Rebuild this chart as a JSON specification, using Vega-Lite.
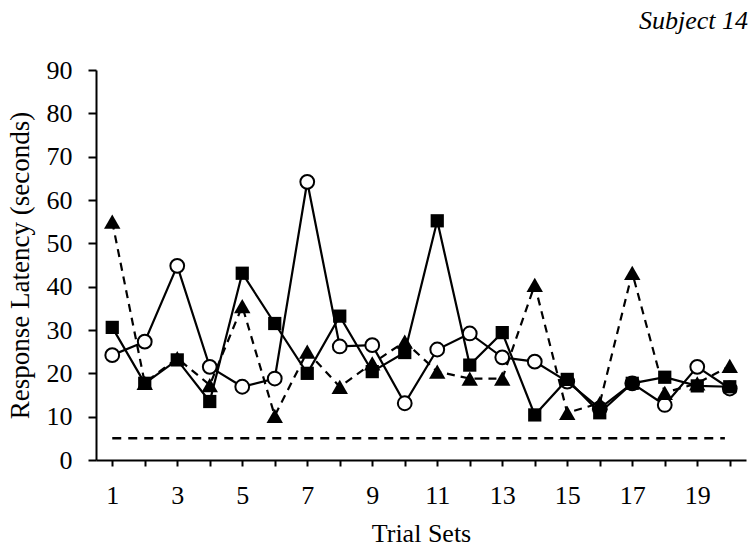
{
  "$schema": "https://vega.github.io/schema/vega-lite/v6.json",
  "width": 650,
  "height": 390,
  "autosize": {"type": "none"},
  "padding": {"left": 96, "top": 70, "right": 9, "bottom": 88},
  "background": "white",
  "title": {
    "text": "Subject 14",
    "anchor": "end",
    "frame": "group",
    "font": "Liberation Serif",
    "fontSize": 26,
    "fontStyle": "italic",
    "fontWeight": "normal",
    "color": "black",
    "offset": 23,
    "dx": 2
  },
  "config": {
    "view": {"stroke": null},
    "axis": {
      "labelFont": "Liberation Serif",
      "titleFont": "Liberation Serif",
      "labelFontSize": 26,
      "titleFontSize": 26,
      "titleFontWeight": "normal",
      "labelColor": "black",
      "titleColor": "black",
      "domainColor": "black",
      "tickColor": "black",
      "domainWidth": 2,
      "tickWidth": 2,
      "grid": false
    }
  },
  "datasets": {
    "main": [
      {"trial": 1, "series": "circle", "value": 24.2},
      {"trial": 2, "series": "circle", "value": 27.3},
      {"trial": 3, "series": "circle", "value": 44.8},
      {"trial": 4, "series": "circle", "value": 21.5},
      {"trial": 5, "series": "circle", "value": 16.9},
      {"trial": 6, "series": "circle", "value": 18.8},
      {"trial": 7, "series": "circle", "value": 64.2},
      {"trial": 8, "series": "circle", "value": 26.2},
      {"trial": 9, "series": "circle", "value": 26.5},
      {"trial": 10, "series": "circle", "value": 13.1},
      {"trial": 11, "series": "circle", "value": 25.5},
      {"trial": 12, "series": "circle", "value": 29.2},
      {"trial": 13, "series": "circle", "value": 23.7},
      {"trial": 14, "series": "circle", "value": 22.7},
      {"trial": 15, "series": "circle", "value": 18.1},
      {"trial": 16, "series": "circle", "value": 11.9},
      {"trial": 17, "series": "circle", "value": 17.7},
      {"trial": 18, "series": "circle", "value": 12.7},
      {"trial": 19, "series": "circle", "value": 21.5},
      {"trial": 20, "series": "circle", "value": 16.5},
      {"trial": 1, "series": "square", "value": 30.6},
      {"trial": 2, "series": "square", "value": 17.7},
      {"trial": 3, "series": "square", "value": 23.1},
      {"trial": 4, "series": "square", "value": 13.5},
      {"trial": 5, "series": "square", "value": 43.1},
      {"trial": 6, "series": "square", "value": 31.5},
      {"trial": 7, "series": "square", "value": 20.0},
      {"trial": 8, "series": "square", "value": 33.2},
      {"trial": 9, "series": "square", "value": 20.4},
      {"trial": 10, "series": "square", "value": 24.8},
      {"trial": 11, "series": "square", "value": 55.2},
      {"trial": 12, "series": "square", "value": 21.9},
      {"trial": 13, "series": "square", "value": 29.4},
      {"trial": 14, "series": "square", "value": 10.4},
      {"trial": 15, "series": "square", "value": 18.6},
      {"trial": 16, "series": "square", "value": 10.9},
      {"trial": 17, "series": "square", "value": 17.7},
      {"trial": 18, "series": "square", "value": 19.1},
      {"trial": 19, "series": "square", "value": 17.1},
      {"trial": 20, "series": "square", "value": 16.9},
      {"trial": 1, "series": "triangle", "value": 55.0},
      {"trial": 2, "series": "triangle", "value": 17.8},
      {"trial": 3, "series": "triangle", "value": 23.5},
      {"trial": 4, "series": "triangle", "value": 17.3},
      {"trial": 5, "series": "triangle", "value": 35.5},
      {"trial": 6, "series": "triangle", "value": 10.2},
      {"trial": 7, "series": "triangle", "value": 25.0},
      {"trial": 8, "series": "triangle", "value": 16.9},
      {"trial": 9, "series": "triangle", "value": 22.3},
      {"trial": 10, "series": "triangle", "value": 27.3},
      {"trial": 11, "series": "triangle", "value": 20.4},
      {"trial": 12, "series": "triangle", "value": 18.8},
      {"trial": 13, "series": "triangle", "value": 18.8},
      {"trial": 14, "series": "triangle", "value": 40.4},
      {"trial": 15, "series": "triangle", "value": 10.9},
      {"trial": 16, "series": "triangle", "value": 13.1},
      {"trial": 17, "series": "triangle", "value": 43.2},
      {"trial": 18, "series": "triangle", "value": 15.5},
      {"trial": 19, "series": "triangle", "value": 17.7},
      {"trial": 20, "series": "triangle", "value": 21.7}
    ],
    "ref": [
      {"trial": 1, "value": 5},
      {"trial": 19.85, "value": 5}
    ]
  },
  "encoding": {
    "x": {
      "field": "trial",
      "type": "quantitative",
      "scale": {"domain": [0.5, 20.5], "nice": false, "zero": false},
      "axis": {
        "title": "Trial Sets",
        "values": [1,2,3,4,5,6,7,8,9,10,11,12,13,14,15,16,17,18,19,20],
        "labelExpr": "datum.value % 2 == 1 ? datum.label : ''",
        "tickSize": 6,
        "labelPadding": 16,
        "titlePadding": 12,
        "labelFlush": false,
        "labelOverlap": false
      }
    },
    "y": {
      "field": "value",
      "type": "quantitative",
      "scale": {"domain": [0, 90], "nice": false},
      "axis": {
        "title": "Response Latency (seconds)",
        "titleFontSize": 27,
        "values": [0,10,20,30,40,50,60,70,80,90],
        "tickSize": 8,
        "labelPadding": 16,
        "titlePadding": 12
      }
    }
  },
  "layer": [
    {
      "data": {"name": "ref"},
      "mark": {"type": "line", "color": "black", "strokeWidth": 2.5, "strokeDash": [9, 7]}
    },
    {
      "data": {"name": "main"},
      "transform": [{"filter": "datum.series == 'triangle'"}],
      "mark": {"type": "line", "color": "black", "strokeWidth": 2.2, "strokeDash": [8, 6]}
    },
    {
      "data": {"name": "main"},
      "transform": [{"filter": "datum.series == 'circle'"}],
      "mark": {"type": "line", "color": "black", "strokeWidth": 2.2}
    },
    {
      "data": {"name": "main"},
      "transform": [{"filter": "datum.series == 'square'"}],
      "mark": {"type": "line", "color": "black", "strokeWidth": 2.2}
    },
    {
      "data": {"name": "main"},
      "transform": [{"filter": "datum.series == 'circle'"}],
      "mark": {"type": "point", "shape": "circle", "filled": true, "fill": "white", "stroke": "black", "strokeWidth": 2, "size": 190, "opacity": 1}
    },
    {
      "data": {"name": "main"},
      "transform": [{"filter": "datum.series == 'square'"}],
      "mark": {"type": "point", "shape": "square", "filled": true, "color": "black", "size": 175, "opacity": 1}
    },
    {
      "data": {"name": "main"},
      "transform": [{"filter": "datum.series == 'triangle'"}],
      "mark": {"type": "point", "shape": "triangle-up", "filled": true, "color": "black", "size": 270, "opacity": 1}
    }
  ]
}
